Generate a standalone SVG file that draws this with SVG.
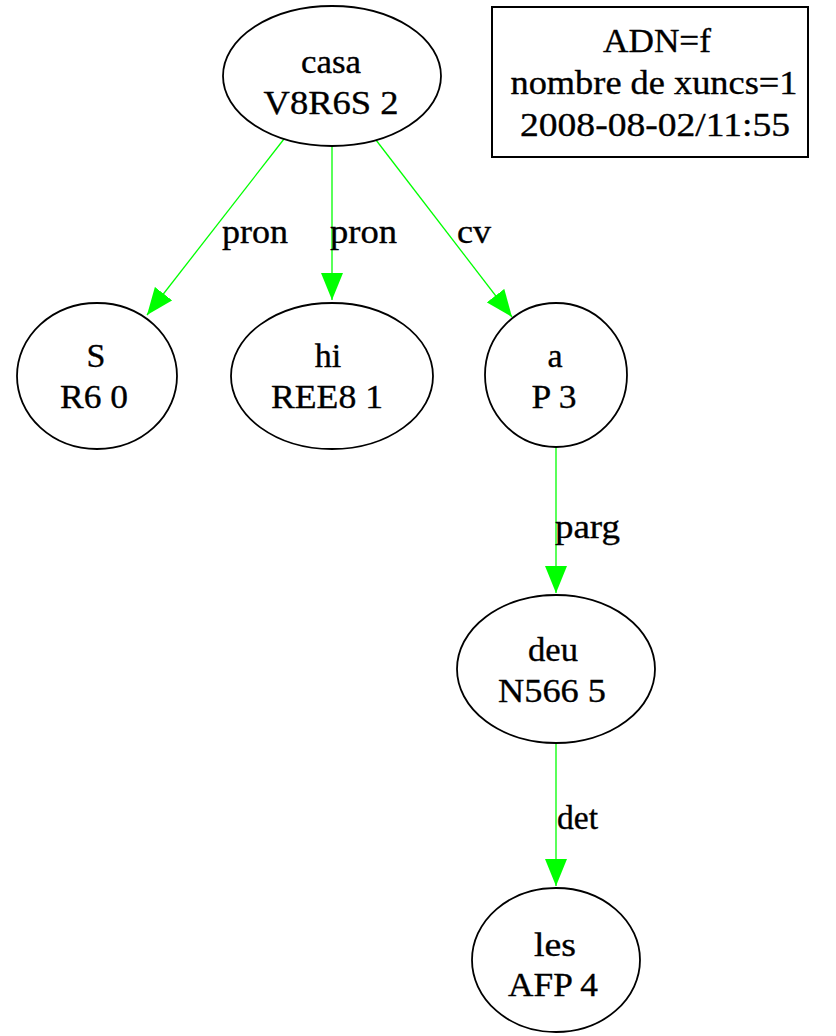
<svg xmlns="http://www.w3.org/2000/svg" width="836" height="1036" viewBox="0 0 836 1036">
  <style>
    text { font-family: "Liberation Serif", "Times New Roman", serif; font-size: 34px; fill: #000; stroke: #000; stroke-width: 0.35; }
    .c { text-anchor: middle; }
    .node ellipse { fill: none; stroke: #000; stroke-width: 1.8; }
    .info rect { fill: none; stroke: #000; stroke-width: 2; }
    .edge { stroke: #00ff00; stroke-width: 1.3; fill: none; marker-end: url(#arrow); }
  </style>
  <defs>
    <marker id="arrow" markerUnits="userSpaceOnUse" viewBox="0 0 27 22" markerWidth="27" markerHeight="22" refX="27" refY="11" orient="auto">
      <path d="M0,0 L27,11 L0,22 Z" fill="#00ff00"/>
    </marker>
  </defs>
  <rect width="836" height="1036" fill="#fff"/>

  <!-- connectors -->
  <g id="edges">
    <path class="edge" d="M284,139 L147,315"/>
    <text x="222" y="243" textLength="66" lengthAdjust="spacingAndGlyphs">pron</text>
    <path class="edge" d="M332,146 L332,300"/>
    <text x="330" y="243" textLength="67" lengthAdjust="spacingAndGlyphs">pron</text>
    <path class="edge" d="M376,140 L512,317"/>
    <text x="457" y="243" textLength="34" lengthAdjust="spacingAndGlyphs">cv</text>
    <path class="edge" d="M556,446 L556,593"/>
    <text x="555" y="538" textLength="65" lengthAdjust="spacingAndGlyphs">parg</text>
    <path class="edge" d="M556,743 L556,886"/>
    <text x="557" y="829" textLength="41" lengthAdjust="spacingAndGlyphs">det</text>
  </g>

  <!-- nodes -->
  <g id="node-casa" class="node">
    <ellipse cx="332" cy="76" rx="109" ry="70"/>
    <text class="c" x="331" y="73" textLength="60" lengthAdjust="spacingAndGlyphs">casa</text>
    <text class="c" x="331" y="114" textLength="135" lengthAdjust="spacingAndGlyphs">V8R6S 2</text>
  </g>
  <g id="node-S" class="node">
    <ellipse cx="97" cy="376" rx="80" ry="73"/>
    <text class="c" x="96" y="367">S</text>
    <text class="c" x="94" y="408" textLength="68" lengthAdjust="spacingAndGlyphs">R6 0</text>
  </g>
  <g id="node-hi" class="node">
    <ellipse cx="332" cy="376" rx="101" ry="73"/>
    <text class="c" x="328" y="367">hi</text>
    <text class="c" x="327" y="408" textLength="112" lengthAdjust="spacingAndGlyphs">REE8 1</text>
  </g>
  <g id="node-a" class="node">
    <ellipse cx="556" cy="375" rx="71" ry="72"/>
    <text class="c" x="555" y="367">a</text>
    <text class="c" x="554" y="408" textLength="45" lengthAdjust="spacingAndGlyphs">P 3</text>
  </g>
  <g id="node-deu" class="node">
    <ellipse cx="556" cy="669" rx="99" ry="74"/>
    <text class="c" x="553" y="661" textLength="50" lengthAdjust="spacingAndGlyphs">deu</text>
    <text class="c" x="552" y="702" textLength="108" lengthAdjust="spacingAndGlyphs">N566 5</text>
  </g>
  <g id="node-les" class="node">
    <ellipse cx="556" cy="960" rx="84" ry="72"/>
    <text class="c" x="555" y="956" textLength="42" lengthAdjust="spacingAndGlyphs">les</text>
    <text class="c" x="553" y="996" textLength="90" lengthAdjust="spacingAndGlyphs">AFP 4</text>
  </g>

  <!-- info box -->
  <g id="info" class="info">
    <rect x="492" y="7" width="316" height="150"/>
    <text class="c" x="657" y="52" textLength="108" lengthAdjust="spacingAndGlyphs">ADN=f</text>
    <text class="c" x="654" y="94" textLength="287" lengthAdjust="spacingAndGlyphs">nombre de xuncs=1</text>
    <text class="c" x="655" y="136" textLength="270" lengthAdjust="spacingAndGlyphs">2008-08-02/11:55</text>
  </g>
</svg>
